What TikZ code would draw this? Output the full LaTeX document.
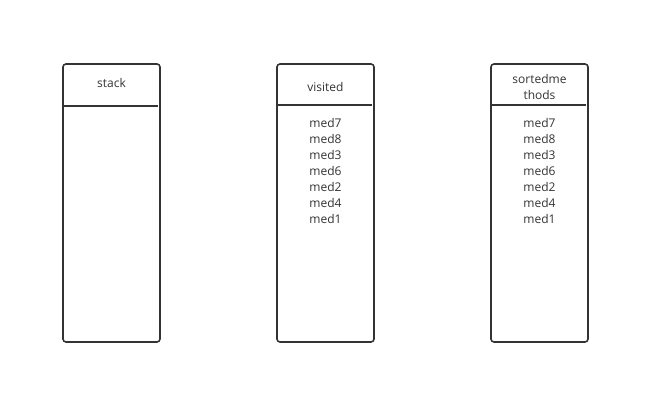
\documentclass[tikz,border=0pt]{standalone}
\usepackage{fontspec}
\setmainfont{Open Sans}
\usepackage{tikz}
\usetikzlibrary{calc}
\definecolor{ink}{HTML}{333333}
\tikzset{
  colbox/.style={draw=ink, line width=1.6pt, rounded corners=3pt},
  headline/.style={draw=ink, line width=1.6pt},
  label/.style={text=ink, font=\fontsize{12}{16}\selectfont, align=center, inner sep=0pt}
}
\begin{document}
\begin{tikzpicture}[x=1pt,y=-1pt]
                \useasboundingbox (0,0) rectangle (649,404);
                % stack
                \draw[colbox] (63,64) rectangle (160,342);
                \draw[headline] (63,106) -- (158,106);
                \node[label] (stack) at (111.5,83) {stack};
                % visited
                \draw[colbox] (277,64) rectangle (374,342);
                \draw[headline] (277,105) -- (372,105);
                \node[label] (visited) at (325.5,87) {visited};
                \node[label, anchor=north] (visitedlist) at (325.5,118) {med7\\med8\\med3\\med6\\med2\\med4\\med1};
                % sortedmethods
                \draw[colbox] (491,64) rectangle (588,342);
                \draw[headline] (491,105) -- (586,105);
                \node[label] (sorted) at (539.5,87) {sortedme\\thods};
                \node[label, anchor=north] (sortedlist) at (539.5,118) {med7\\med8\\med3\\med6\\med2\\med4\\med1};
            \end{tikzpicture}
\end{document}
